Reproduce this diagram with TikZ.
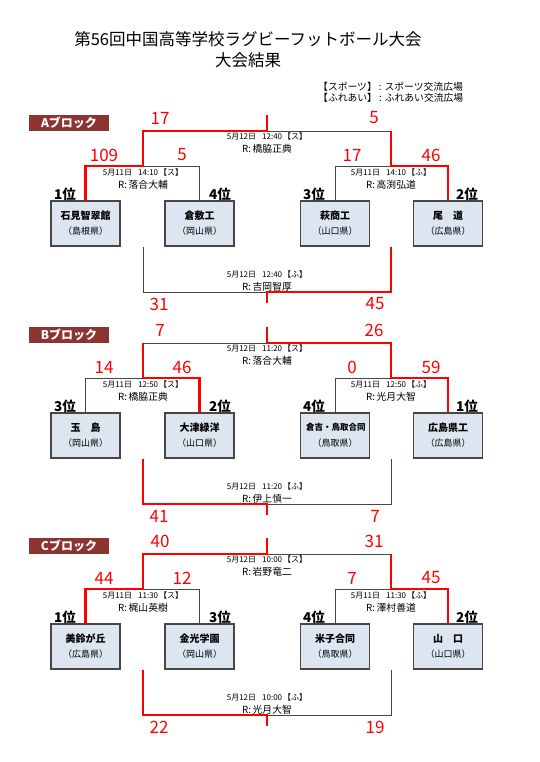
\documentclass[tikz,border=0pt]{standalone}
\usepackage{fontspec}
\setmainfont{Noto Sans CJK JP}
\definecolor{blk}{RGB}{140,52,48}
\definecolor{boxfill}{RGB}{220,229,240}
\definecolor{ln}{RGB}{70,70,70}
\definecolor{rd}{RGB}{255,0,0}
\newcommand\fs[1]{\fontsize{#1}{#1}\selectfont}
\newcommand\dt[3]{#1\hspace{6pt}#2\hspace{1pt}【#3】}
\newcommand\infopair[5]{%
  \node[info] (#1d) at (#2,#3) {#4};
  \node[refr] (#1r) at (#2,#3+13) {#5};}
\newcommand\skel{%
  \coordinate (ct) at (267,115);
  \coordinate (cj) at (267,131);
  \coordinate (fl) at (143,131);
  \coordinate (fr) at (391,131);
  \coordinate (sl) at (143,166);
  \coordinate (sr) at (391,166);
  \coordinate (s1) at (b1.north |- sl);
  \coordinate (s2) at (b2.north |- sl);
  \coordinate (s3) at (b3.north |- sr);
  \coordinate (s4) at (b4.north |- sr);
  \coordinate (t1) at (143,247);
  \coordinate (t2) at (391,247);
  \coordinate (bl) at (143,292);
  \coordinate (br) at (391,292);
  \coordinate (bj) at (267,292);
  \coordinate (bs) at (267,303);
  \draw[thinln] (b1.north) -- (s1) -- (s2) -- (b2.north);
  \draw[thinln] (b3.north) -- (s3) -- (s4) -- (b4.north);
  \draw[thinln] (sl) -- (fl) -- (fr) -- (sr);
  \draw[thinln] (ct) -- (cj);
  \draw[thinln] (t1) -- (bl) -- (br) -- (t2);
  \draw[thinln] (bj) -- (bs);}
\newcommand\scores[8]{%
  \node[score] (sc1) at (160,118) {#1};
  \node[score] (sc2) at (374,118) {#2};
  \node[score] (sc3) at (104,155) {#3};
  \node[score] (sc4) at (182,155) {#4};
  \node[score] (sc5) at (352,155) {#5};
  \node[score] (sc6) at (431,155) {#6};
  \node[score] (sc7) at (159,304) {#7};
  \node[score] (sc8) at (375,304) {#8};}
\newcommand\ranks[4]{%
  \node[rank] (rk1) at (65,194) {#1};
  \node[rank] (rk2) at (220,194) {#2};
  \node[rank] (rk3) at (314,194) {#3};
  \node[rank] (rk4) at (467,194) {#4};}
\tikzset{
  box/.style={draw=ln, line width=1.2pt, fill=boxfill, minimum width=69pt, minimum height=45pt, inner sep=0pt, align=center, font=\fs{10}},
  thinln/.style={draw=ln, line width=0.8pt},
  redln/.style={draw=rd, line width=2.3pt, line join=miter},
  score/.style={text=rd, font=\fs{17}, inner sep=0pt},
  rank/.style={font=\bfseries\fs{13.5}, inner sep=0pt},
  info/.style={font=\fs{8}, inner sep=0pt},
  refr/.style={font=\fs{9.8}, inner sep=0pt},
  blocklabel/.style={fill=blk, text=white, font=\bfseries\fs{12}, minimum width=80pt, minimum height=16pt, inner sep=0pt},
  titlefont/.style={font=\fs{16.5}, inner sep=0pt},
  legend/.style={font=\fs{9.8}, inner sep=0pt, anchor=west},
}
\begin{document}
\begin{tikzpicture}[x=1pt, y=-1pt]
\useasboundingbox[fill=white] (0,0) rectangle (539,762);
\node[titlefont] (title1) at (248,39) {第56回中国高等学校ラグビーフットボール大会};
\node[titlefont] (title2) at (248,60) {大会結果};
\node[legend] (leg1) at (318,87) {【スポーツ】 : スポーツ交流広場};
\node[legend] (leg2) at (318,98) {【ふれあい】 : ふれあい交流広場};

% ---------------- A block
\begin{scope}[name prefix=A-]
\node[blocklabel] (lab) at (69,123) {Aブロック};
\node[box] (b1) at (85.5,223.5) {{\bfseries 石見智翠館}\\[5pt]{\fs{9}（島根県）}};
\node[box] (b2) at (199.5,223.5) {{\bfseries 倉敷工}\\[5pt]{\fs{9}（岡山県）}};
\node[box] (b3) at (335,223.5) {{\bfseries 萩商工}\\[5pt]{\fs{9}（山口県）}};
\node[box] (b4) at (448,223.5) {{\bfseries 尾　道}\\[5pt]{\fs{9}（広島県）}};
\skel
\draw[redln] (b1.north) -- (s1) -- (sl) -- (fl) -- (cj) -- (ct);
\draw[redln] (b4.north) -- (s4) -- (sr) -- (fr);
\draw[redln] (t2) -- (br) -- (bj) -- (bs);
\scores{17}{5}{109}{5}{17}{46}{31}{45}
\ranks{1位}{4位}{3位}{2位}
\infopair{ft}{267}{136}{\dt{5月12日}{12:40}{ス}}{R:\,橋脇正典}
\infopair{sa}{143}{172}{\dt{5月11日}{14:10}{ス}}{R:\,落合大輔}
\infopair{sb}{391}{172}{\dt{5月11日}{14:10}{ふ}}{R:\,高渕弘道}
\infopair{tp}{267}{274}{\dt{5月12日}{12:40}{ふ}}{R:\,吉岡智厚}
\end{scope}

% ---------------- B block
\begin{scope}[shift={(0,212)}, name prefix=B-]
\node[blocklabel] (lab) at (69,123) {Bブロック};
\node[box] (b1) at (85.5,223.5) {{\bfseries 玉　島}\\[5pt]{\fs{9}（岡山県）}};
\node[box] (b2) at (199.5,223.5) {{\bfseries 大津緑洋}\\[5pt]{\fs{9}（山口県）}};
\node[box] (b3) at (335,223.5) {{\bfseries\fs{8.5} 倉吉・鳥取合同}\\[6pt]{\fs{9}（鳥取県）}};
\node[box] (b4) at (448,223.5) {{\bfseries 広島県工}\\[5pt]{\fs{9}（広島県）}};
\skel
\draw[redln] (b2.north) -- (s2) -- (sl) -- (fl);
\draw[redln] (b4.north) -- (s4) -- (sr) -- (fr) -- (cj) -- (ct);
\draw[redln] (t1) -- (bl) -- (bj) -- (bs);
\scores{7}{26}{14}{46}{0}{59}{41}{7}
\ranks{3位}{2位}{4位}{1位}
\infopair{ft}{267}{136}{\dt{5月12日}{11:20}{ス}}{R:\,落合大輔}
\infopair{sa}{143}{172}{\dt{5月11日}{12:50}{ス}}{R:\,橋脇正典}
\infopair{sb}{391}{172}{\dt{5月11日}{12:50}{ふ}}{R:\,光月大智}
\infopair{tp}{267}{274}{\dt{5月12日}{11:20}{ふ}}{R:\,伊上慎一}
\end{scope}

% ---------------- C block
\begin{scope}[shift={(0,423)}, name prefix=C-]
\node[blocklabel] (lab) at (69,123) {Cブロック};
\node[box] (b1) at (85.5,223.5) {{\bfseries 美鈴が丘}\\[5pt]{\fs{9}（広島県）}};
\node[box] (b2) at (199.5,223.5) {{\bfseries 金光学園}\\[5pt]{\fs{9}（岡山県）}};
\node[box] (b3) at (335,223.5) {{\bfseries 米子合同}\\[5pt]{\fs{9}（鳥取県）}};
\node[box] (b4) at (448,223.5) {{\bfseries 山　口}\\[5pt]{\fs{9}（山口県）}};
\skel
\draw[redln] (b1.north) -- (s1) -- (sl) -- (fl) -- (cj) -- (ct);
\draw[redln] (b4.north) -- (s4) -- (sr) -- (fr);
\draw[redln] (t1) -- (bl) -- (bj) -- (bs);
\scores{40}{31}{44}{12}{7}{45}{22}{19}
\ranks{1位}{3位}{4位}{2位}
\infopair{ft}{267}{136}{\dt{5月12日}{10:00}{ス}}{R:\,岩野竜二}
\infopair{sa}{143}{172}{\dt{5月11日}{11:30}{ス}}{R:\,梶山英樹}
\infopair{sb}{391}{172}{\dt{5月11日}{11:30}{ふ}}{R:\,澤村善道}
\infopair{tp}{267}{274}{\dt{5月12日}{10:00}{ふ}}{R:\,光月大智}
\end{scope}
\end{tikzpicture}
\end{document}
